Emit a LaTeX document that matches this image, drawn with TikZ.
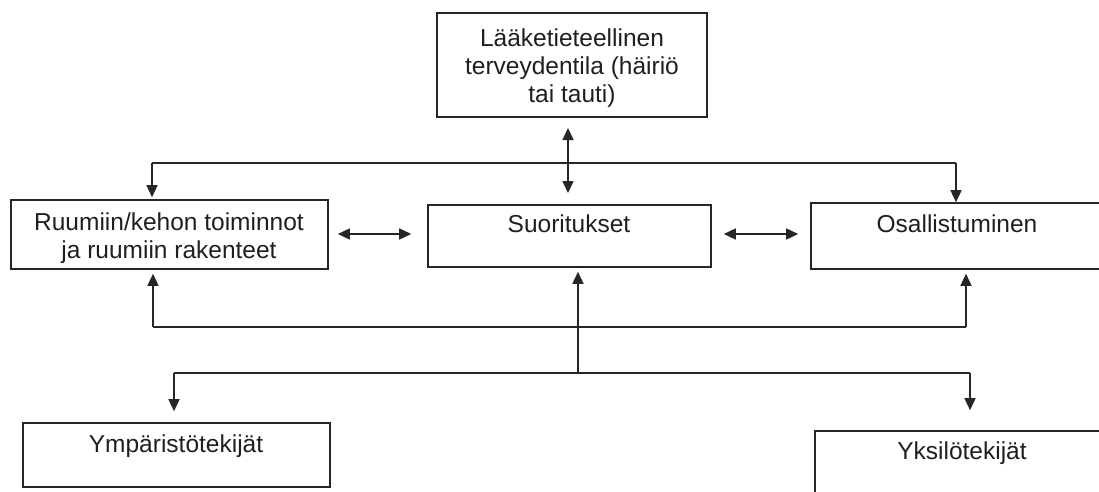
\documentclass[tikz,border=0pt]{standalone}
\usepackage{fontspec}
\setmainfont{Liberation Sans}
\usetikzlibrary{arrows.meta,calc}
\begin{document}
\begin{tikzpicture}[x=1pt,y=-1pt,
  box/.style={draw=black!85,line width=1.6pt,rectangle,inner sep=0pt},
  txt/.style={font=\fontsize{24.5}{28}\selectfont,align=center,inner sep=0pt,text=black!88},
  con/.style={draw=black!85,line width=1.5pt},
  arr/.style={con,-{Triangle[length=12pt,width=11pt]}},
  darr/.style={con,{Triangle[length=12pt,width=11pt]}-{Triangle[length=12pt,width=11pt]}}]
\useasboundingbox (0,0) rectangle (1099,492);
% boxes
\node[box,minimum width=270pt,minimum height=104pt] (top) at (572,65) {};
\node[box,minimum width=317pt,minimum height=69pt] (lbox) at (169.5,234.5) {};
\node[box,minimum width=283pt,minimum height=62pt] (mbox) at (569.5,236) {};
\node[box,minimum width=292pt,minimum height=66pt] (rbox) at (957,236) {};
\node[box,minimum width=307pt,minimum height=64pt] (ebox) at (176.5,455) {};
\node[box,minimum width=294pt,minimum height=80pt] (pbox) at (962,471) {};
% texts
\node[txt] (ttop) at (572,68) {Lääketieteellinen\\terveydentila (häiriö\\tai tauti)};
\node[txt] (tl) at (169,238) {Ruumiin/kehon toiminnot\\ja ruumiin rakenteet};
\node[txt,anchor=base] (tm) at (569,232) {Suoritukset};
\node[txt,anchor=base] (tr) at (957,232) {Osallistuminen};
\node[txt,anchor=base] (te) at (176,452) {Ympäristötekijät};
\node[txt,anchor=base] (tp) at (962,459) {Yksilötekijät};
% top connectors
\coordinate (va) at (568,128);
\coordinate (vb) at (568,193);
\draw[darr] (va) -- (vb);
\coordinate (hl) at (152,163);
\coordinate (hr) at (956,163);
\draw[con] (hl) -- (hr);
\draw[arr,shorten >=2pt] (hl) -- (lbox.north -| hl);
\draw[arr] (hr) -- (rbox.north -| hr);
% horizontal double arrows
\draw[darr,shorten <=9pt,shorten >=16pt] (lbox.east |- 0,234) -- (mbox.west |- 0,234);
\draw[darr,shorten <=12pt,shorten >=12pt] (mbox.east |- 0,234) -- (rbox.west |- 0,234);
% bottom connectors
\coordinate (bl) at (153,327);
\coordinate (br) at (966,327);
\draw[con] (bl) -- (br);
\draw[arr,shorten >=4pt] (bl) -- (lbox.south -| bl);
\draw[arr,shorten >=4pt] (br) -- (rbox.south -| br);
\coordinate (mb) at (578,373);
\draw[arr,shorten >=4pt] (mb) -- (mbox.south -| mb);
\coordinate (el) at (174,373);
\coordinate (er) at (970,373);
\draw[con] (el) -- (er);
\draw[arr,shorten >=11pt] (el) -- (ebox.north -| el);
\draw[arr,shorten >=20pt] (er) -- (pbox.north -| er);
\end{tikzpicture}
\end{document}
